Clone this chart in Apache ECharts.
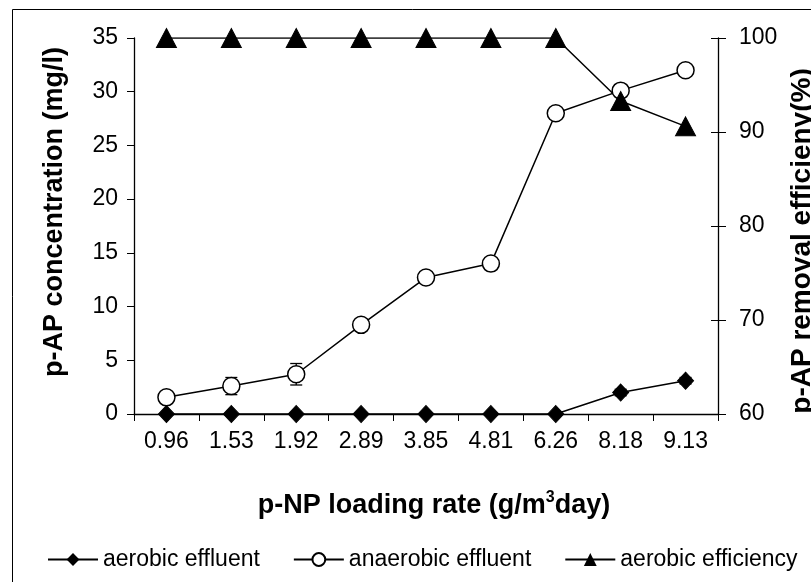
<!DOCTYPE html>
<html>
<head>
<meta charset="utf-8">
<script src="https://cdn.jsdelivr.net/npm/echarts@6/dist/echarts.min.js"></script>
<style>html,body{margin:0;padding:0;background:#fff}#c{width:811px;height:582px}</style>
</head>
<body>
<div id="c"></div>
<script>
var categories = ['0.96', '1.53', '1.92', '2.89', '3.85', '4.81', '6.26', '8.18', '9.13'];
var aerobicEffluent = [0, 0, 0, 0, 0, 0, 0, 2.0, 3.1];
var aerobicEffluentErr = [0, 0, 0, 0, 0, 0, 0, 0.3, 0.3];
var anaerobicEffluent = [1.55, 2.6, 3.7, 8.3, 12.7, 14.0, 28.0, 30.1, 32.0];
var anaerobicEffluentErr = [0, 0.8, 1.0, 0, 0, 0, 0, 0, 0];
var aerobicEfficiency = [100, 100, 100, 100, 100, 100, 100, 93.3, 90.6];
var leftTicks = [0, 35, 5];
var rightTicks = [60, 100, 10];

var FONT = '"Liberation Sans", Arial, sans-serif';
var chart = echarts.init(document.getElementById('c'), null, {renderer: 'canvas'});

function errSeries(vals, errs, axisIdx) {
  return {
    type: 'custom',
    yAxisIndex: axisIdx,
    z: 1,
    silent: true,
    renderItem: function (params, api) {
      var i = api.value(0), v = api.value(1), e = api.value(2);
      if (!e) return null;
      var t = api.coord([i, v + e]);
      var b = api.coord([i, v - e]);
      var hw = 6;
      var st = {stroke: '#000', lineWidth: 1.3};
      return {type: 'group', children: [
        {type: 'line', shape: {x1: t[0], y1: t[1], x2: b[0], y2: b[1]}, style: st},
        {type: 'line', shape: {x1: t[0] - hw, y1: t[1], x2: t[0] + hw, y2: t[1]}, style: st},
        {type: 'line', shape: {x1: b[0] - hw, y1: b[1], x2: b[0] + hw, y2: b[1]}, style: st}
      ]};
    },
    data: categories.map(function (c, i) { return [i, vals[i], errs[i]]; })
  };
}

var option = {
  animation: false,
  backgroundColor: '#fff',
  textStyle: {fontFamily: FONT, color: '#000'},
  grid: {left: 134, right: 93, top: 38, bottom: 168, containLabel: false, outerBoundsMode: 'none'},
  graphic: [{
    type: 'rect', z: 100, silent: true,
    shape: {x: 12.5, y: 9.5, width: 820, height: 600},
    style: {fill: 'none', stroke: '#000', lineWidth: 1}
  }],
  legend: {
    left: 42, top: 543,
    itemWidth: 50, itemHeight: 16, itemGap: 33,
    textStyle: {fontFamily: FONT, fontSize: 23, color: '#000'},
    data: ['aerobic effluent', 'anaerobic effluent', 'aerobic efficiency']
  },
  xAxis: {
    type: 'category',
    data: categories,
    boundaryGap: true,
    name: 'p-NP loading rate (g/m{sup|3}day)',
    nameLocation: 'middle',
    nameGap: 76,
    nameTextStyle: {
      fontFamily: FONT, fontSize: 27, fontWeight: 'bold', color: '#000', padding: [0, 0, 0, 16],
      rich: {sup: {fontFamily: FONT, fontSize: 16, fontWeight: 'bold', color: '#000', verticalAlign: 'top', padding: [0, 0, 16, 0]}}
    },
    axisLine: {lineStyle: {color: '#000', width: 1.3}},
    axisTick: {show: true, length: 7, lineStyle: {color: '#000', width: 1}},
    axisLabel: {fontFamily: FONT, fontSize: 23, color: '#000', margin: 16},
    splitLine: {show: false}
  },
  yAxis: [{
    type: 'value',
    min: leftTicks[0], max: leftTicks[1], interval: leftTicks[2],
    position: 'left',
    name: 'p-AP concentration (mg/l)',
    nameLocation: 'middle',
    nameGap: 66,
    nameTextStyle: {fontFamily: FONT, fontSize: 27, fontWeight: 'bold', color: '#000', padding: [0, 0, 0, 28]},
    axisLine: {show: true, lineStyle: {color: '#000', width: 1.3}},
    axisTick: {show: true, length: 7, lineStyle: {color: '#000', width: 1}},
    axisLabel: {fontFamily: FONT, fontSize: 23, color: '#000', margin: 16},
    splitLine: {show: false}
  }, {
    type: 'value',
    min: rightTicks[0], max: rightTicks[1], interval: rightTicks[2],
    position: 'right',
    name: 'p-AP removal efficieny(%)',
    nameLocation: 'middle',
    nameGap: 20,
    nameTextStyle: {fontFamily: FONT, fontSize: 28, fontWeight: 'bold', color: '#000', padding: [0, 30, 0, 0]},
    axisLine: {show: true, lineStyle: {color: '#000', width: 1.3}},
    axisTick: {show: true, length: 8, lineStyle: {color: '#000', width: 1}},
    axisLabel: {fontFamily: FONT, fontSize: 23, color: '#000', margin: 21},
    splitLine: {show: false}
  }, {
    type: 'value',
    min: rightTicks[0], max: rightTicks[1], interval: rightTicks[2],
    position: 'right',
    axisLine: {show: false},
    axisTick: {show: true, inside: true, length: 7, lineStyle: {color: '#000', width: 1}},
    axisLabel: {show: false},
    splitLine: {show: false}
  }],
  series: [
    errSeries(aerobicEffluent, aerobicEffluentErr, 0),
    errSeries(anaerobicEffluent, anaerobicEffluentErr, 0),
    {
      name: 'aerobic effluent', type: 'line', yAxisIndex: 0, z: 3,
      data: aerobicEffluent,
      symbol: 'diamond', symbolSize: [16, 17],
      lineStyle: {color: '#000', width: 1.5},
      itemStyle: {color: '#000', borderColor: '#000'}
    },
    {
      name: 'anaerobic effluent', type: 'line', yAxisIndex: 0, z: 3,
      data: anaerobicEffluent,
      symbol: 'circle', symbolSize: 17,
      lineStyle: {color: '#000', width: 1.5},
      itemStyle: {color: '#fff', borderColor: '#000', borderWidth: 1.5}
    },
    {
      name: 'aerobic efficiency', type: 'line', yAxisIndex: 1, z: 3,
      data: aerobicEfficiency,
      symbol: 'triangle', symbolSize: [20, 19],
      lineStyle: {color: '#000', width: 1.5},
      itemStyle: {color: '#000', borderColor: '#000'}
    }
  ]
};
chart.setOption(option);
</script>
</body>
</html>
